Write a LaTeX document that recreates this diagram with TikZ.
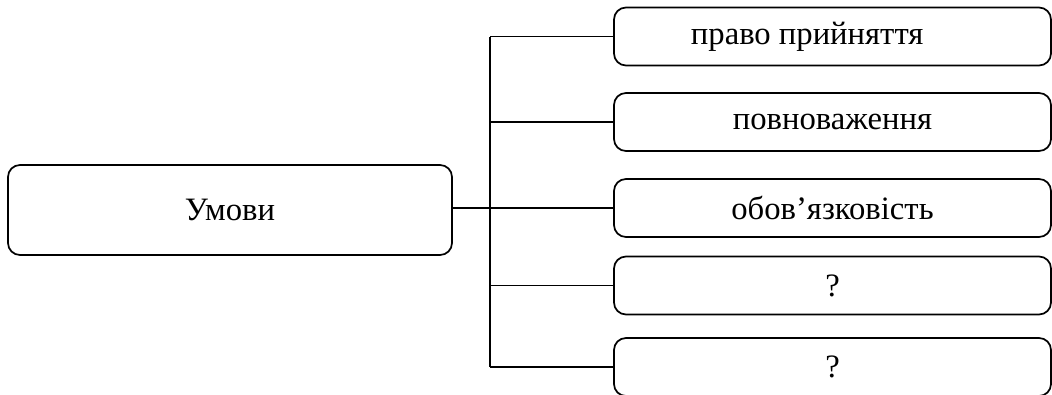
\documentclass[tikz,border=0pt]{standalone}
\usepackage{fontspec}
\setmainfont{Liberation Serif}
\usetikzlibrary{positioning,calc}

\begin{document}
\begin{tikzpicture}[x=0.75pt, y=-0.75pt, line width=1.3pt,
    font=\fontsize{24.5pt}{28pt}\selectfont,
    mainbox/.style={draw, rounded corners=9pt, minimum width=333pt,
      minimum height=67.5pt, inner sep=0pt},
    itembox/.style={draw, rounded corners=9pt, minimum width=327.75pt,
      minimum height=43.5pt, inner sep=0pt}]
\useasboundingbox (0,0) rectangle (1052,394);
\clip (0,0) rectangle (1052,394);

\node[mainbox] (cond) at (230,210) {Умови};

\node[itembox] (r1) at (832.5,36.5)  {право прийняття\hspace*{38pt}};
\node[itembox] (r2) at (832.5,122)   {повноваження};
\node[itembox] (r3) at (832.5,208)   {обов’язковість};
\node[itembox] (r4) at (832.5,285.5) {?};
\node[itembox] (r5) at (832.5,367)   {?};

\coordinate (trunk) at (490,208);
\draw (cond.east |- trunk) -- (trunk);
\draw (trunk |- r1.west) -- (trunk |- r5.west);
\foreach \i in {1,...,5}
  \draw (trunk |- r\i.west) -- (r\i.west);
\end{tikzpicture}
\end{document}
